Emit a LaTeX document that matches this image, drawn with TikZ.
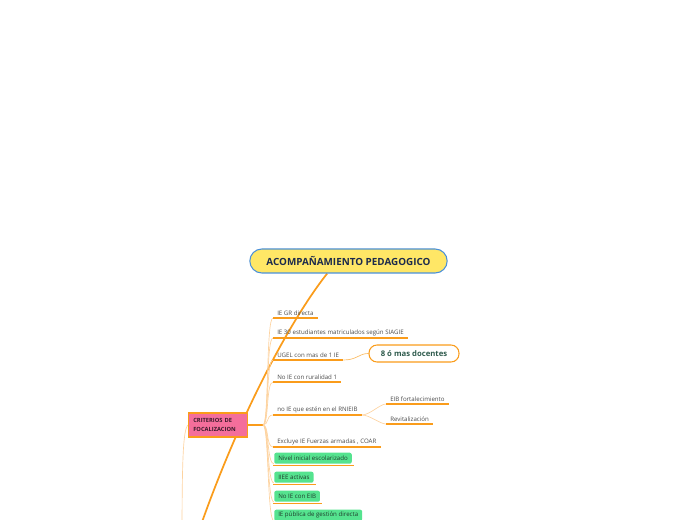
\documentclass[tikz,border=0pt]{standalone}
\usepackage{fontspec}
\setmainfont{Open Sans}
\usepackage{tikz}
\usetikzlibrary{positioning,backgrounds,calc}
\definecolor{mapline}{HTML}{FA9C1B}
\definecolor{twigline}{HTML}{FDD3A0}
\definecolor{rootfill}{HTML}{FFE766}
\definecolor{rootedge}{HTML}{4A90D9}
\definecolor{rootink}{HTML}{1C2B4C}
\definecolor{critfill}{HTML}{F46E9B}
\definecolor{critink}{HTML}{3A1A2A}
\definecolor{notefill}{HTML}{55E38F}
\definecolor{noteink}{HTML}{1F3D2C}
\definecolor{docink}{HTML}{2F5B4D}
\definecolor{leafink}{HTML}{4A4A4A}

\begin{document}
\begin{tikzpicture}[x=0.75pt, y=-0.75pt,
  root/.style={draw=rootedge, line width=0.8pt, fill=rootfill, rounded corners=9pt, minimum width=148pt, minimum height=18pt, text=rootink, font=\fontsize{7.4}{9}\selectfont\bfseries},
  crit/.style={draw=mapline, line width=1pt, fill=critfill, minimum height=18pt, text width=37pt, align=left, inner xsep=3.75pt, text=critink, font=\fontsize{4.3}{6.7}\selectfont\bfseries},
  uline/.style={draw=mapline, line width=1.2pt},
  topic/.style={anchor=south west, inner xsep=3pt, inner ysep=1.6pt, text=leafink, font=\fontsize{4.6}{5}\selectfont,
    append after command={(\tikzlastnode.south west) edge[uline] (\tikzlastnode.south east)}},
  greenbox/.style={anchor=south west, fill=notefill, rounded corners=1.5pt, inner xsep=3pt, inner ysep=1pt, minimum height=8.25pt, text=noteink, font=\fontsize{4.6}{5}\selectfont,
    append after command={($(\tikzlastnode.south west)+(-1,1.5)$) edge[uline] ($(\tikzlastnode.south east)+(2,1.5)$)}},
  docbox/.style={draw=mapline, line width=0.8pt, fill=white, rounded corners=6pt, minimum width=67.5pt, minimum height=12.75pt, text=docink, font=\fontsize{5.8}{7}\selectfont\bfseries},
  trunk/.style={draw=mapline, line width=1.3pt},
  twig/.style={draw=twigline, line width=0.5pt}
]
  \useasboundingbox (0,0) rectangle (696,520);
  \clip (0,0) rectangle (696,520);

  \node[root] (root) at (348.5,261) {ACOMPAÑAMIENTO PEDAGOGICO};
  \node[crit] (crit) at (218,425) {CRITERIOS DE\\FOCALIZACION};
  \coordinate (crit-hub)  at (263,425);
  \coordinate (root-down) at (194,545);
  \coordinate (crit-down) at (182,545);

  \node[topic] (gr)      at (273,318) {IE GR directa};
  \node[topic] (ie30)    at (273,338) {IE 30 estudiantes matriculados según SIAGIE};
  \node[topic] (ugel)    at (273,360) {UGEL con mas de 1 IE};
  \node[topic] (rural)   at (273,382) {No IE con ruralidad 1};
  \node[topic] (rnieib)  at (273,415) {no IE que estén en el RNIEIB};
  \node[topic] (fort)    at (386,404) {EIB fortalecimiento};
  \node[topic] (revit)   at (386,424) {Revitalización};
  \node[topic] (fuerzas) at (273,447) {Excluye IE Fuerzas armadas , COAR};

  \node[greenbox] (inicial) at (274,464) {Nivel inicial escolarizado};
  \node[greenbox] (activas) at (274,483) {IIEE activas};
  \node[greenbox] (eib)     at (274,502) {No IE con EIB};
  \node[greenbox] (publica) at (274,521) {IE pública de gestión directa};

  \node[docbox] (docentes) at (414,353.5) {8 ó mas docentes};

  \begin{scope}[on background layer]
    \draw[trunk] ([xshift=-16pt]root.south) .. controls (292,318) and (238,415) .. (root-down);
    \draw[twig] (crit.west) .. controls (183,432) and (182,460) .. (crit-down);
    \draw[trunk] (crit.east) -- (crit-hub);
    \foreach \leaf in {gr,ie30,ugel,rural,rnieib,fuerzas,inicial,activas,eib,publica}
      \draw[twig] (crit-hub) .. controls +(6,0) and +(-7,0) .. (\leaf.south west);
    \draw[twig] (rnieib.south east) .. controls +(8,0) and +(-6,0) .. (fort.south west);
    \draw[twig] (rnieib.south east) .. controls +(8,0) and +(-6,0) .. (revit.south west);
    \draw[draw=mapline!70, line width=0.5pt] (ugel.south east) .. controls +(14,0) and +(-10,0) .. (docentes.west);
  \end{scope}
\end{tikzpicture}
\end{document}
